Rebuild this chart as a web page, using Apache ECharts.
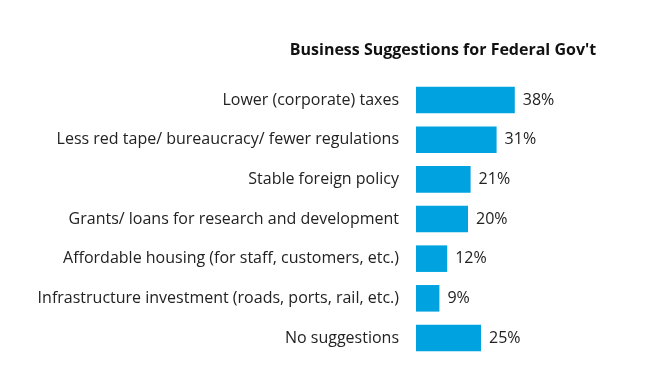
<!DOCTYPE html>
<html><head><meta charset="utf-8">
<script src="https://cdn.jsdelivr.net/npm/echarts@6/dist/echarts.min.js"></script>
<style>html,body{margin:0;padding:0;background:#fff}#c{width:652px;height:391px}</style>
</head><body><div id="c"></div>
<script>
const categories = [
  "Lower (corporate) taxes",
  "Less red tape/ bureaucracy/ fewer regulations",
  "Stable foreign policy",
  "Grants/ loans for research and development",
  "Affordable housing (for staff, customers, etc.)",
  "Infrastructure investment (roads, ports, rail, etc.)",
  "No suggestions"
];
const values = [38, 31, 21, 20, 12, 9, 25];
const titleText = "Business Suggestions for Federal Gov't";

const chart = echarts.init(document.getElementById('c'));
chart.setOption({
  animation: false,
  title: {
    text: titleText, left: 438, top: 37, textAlign: 'center',
    textStyle: {fontFamily: 'Open Sans', fontWeight: 'bold', fontSize: 16, color: '#111'}
  },
  grid: {left: 416, top: 80.2, width: 130, height: 277.6, containLabel: false},
  xAxis: {type: 'value', min: 0, max: 50, show: false},
  yAxis: {
    type: 'category', data: categories, inverse: true,
    axisLine: {show: false}, axisTick: {show: false},
    axisLabel: {margin: 17, fontFamily: 'Open Sans', fontSize: 16, color: '#222'}
  },
  series: [{
    type: 'bar', data: values, barWidth: '67%',
    itemStyle: {color: '#00A3E0'},
    label: {show: true, position: 'right', distance: 8, formatter: '{c}%',
      fontFamily: 'Open Sans', fontSize: 16, color: '#222'}
  }]
});
</script></body></html>
